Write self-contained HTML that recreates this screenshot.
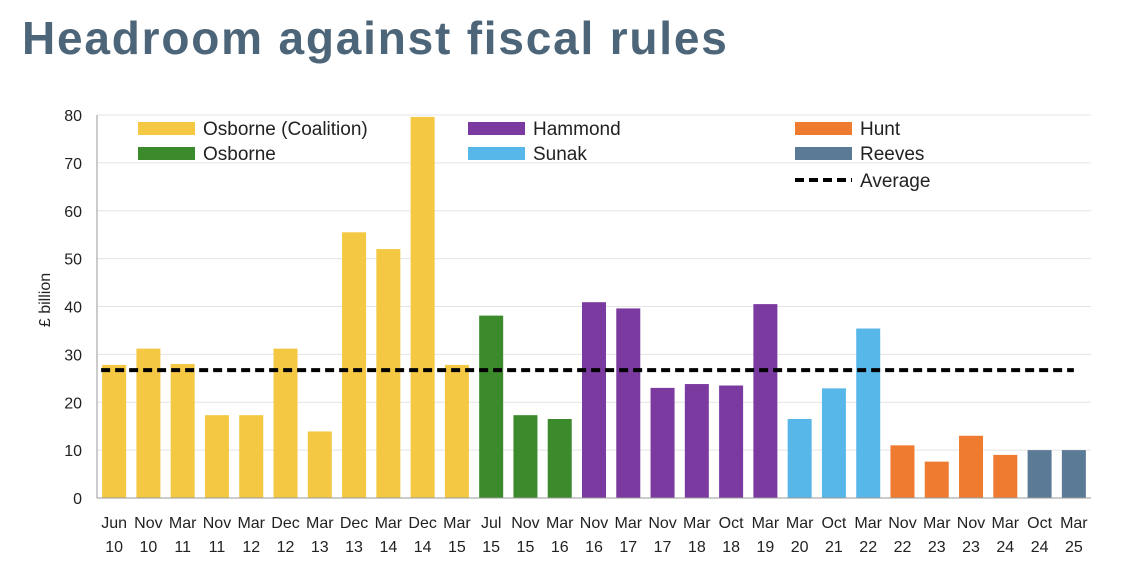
<!DOCTYPE html>
<html><head><meta charset="utf-8"><style>
body{margin:0;background:#fff;width:1146px;height:577px;overflow:hidden;font-family:"Liberation Sans",sans-serif}
</style></head><body>
<svg width="1146" height="577">
<text x="22" y="54" font-size="46" font-weight="bold" letter-spacing="1.8" fill="#4d6579">Headroom against fiscal rules</text>
<g id="grid"></g><g id="bars"></g><g id="axes"></g><g id="legend"></g>
<text transform="translate(50,300) rotate(-90)" text-anchor="middle" font-size="16" fill="#222">£ billion</text>
</svg>
<script>
const categories=[["Jun","10"],["Nov","10"],["Mar","11"],["Nov","11"],["Mar","12"],["Dec","12"],["Mar","13"],["Dec","13"],["Mar","14"],["Dec","14"],["Mar","15"],["Jul","15"],["Nov","15"],["Mar","16"],["Nov","16"],["Mar","17"],["Nov","17"],["Mar","18"],["Oct","18"],["Mar","19"],["Mar","20"],["Oct","21"],["Mar","22"],["Nov","22"],["Mar","23"],["Nov","23"],["Mar","24"],["Oct","24"],["Mar","25"]];
const values=[27.8,31.2,28,17.3,17.3,31.2,13.9,55.5,52,79.6,27.8,38.1,17.3,16.5,40.9,39.6,23,23.8,23.5,40.5,16.5,22.9,35.4,11,7.6,13,9,10,10];
const chancellors=[0,0,0,0,0,0,0,0,0,0,0,1,1,1,2,2,2,2,2,2,3,3,3,4,4,4,4,5,5];
const seriesNames=["Osborne (Coalition)","Osborne","Hammond","Sunak","Hunt","Reeves"];
const average=26.7;
const yTicks=[0,10,20,30,40,50,60,70,80];
const colors=["#f4c842","#3b8a2c","#7a3a9f","#58b7e9","#ee7b30","#5b7a95"];
const NS="http://www.w3.org/2000/svg";
const x0=97,x1=1091,step=(x1-x0)/categories.length,y0=498,yTop=115;
const y=v=>y0-(v/80)*(y0-yTop);
const xc=i=>x0+step*(i+0.5);
function mk(t,a,p){const e=document.createElementNS(NS,t);for(const k in a)e.setAttribute(k,a[k]);p.appendChild(e);return e;}
const grid=document.getElementById('grid'),bars=document.getElementById('bars'),axes=document.getElementById('axes'),leg=document.getElementById('legend');
yTicks.forEach(t=>{
 if(t>0){const g=mk('line',{x1:x0,x2:x1,y1:y(t),y2:y(t),stroke:'#e4e4e4','stroke-width':1},grid);
 
 }
 const l=mk('text',{x:82,y:y(t)+6,'text-anchor':'end','font-size':16,fill:'#222'},axes);l.textContent=t;
 
 
});
values.forEach((v,i)=>{
 const r=mk('rect',{x:xc(i)-12,y:y(v),width:24,height:y0-y(v),fill:colors[chancellors[i]]},bars);
 
 
 categories[i].forEach((s,j)=>{const t=mk('text',{x:xc(i),y:528+j*24,'text-anchor':'middle','font-size':16,fill:'#222'},axes);t.textContent=s;
 
 });
});
const ax=mk('line',{x1:x0,x2:x1,y1:y0,y2:y0,stroke:'#999'},axes);


const ay=mk('line',{x1:x0,x2:x0,y1:yTop,y2:y0,stroke:'#999'},axes);


const av=mk('line',{x1:xc(0)-13,x2:xc(values.length-1),y1:y(average),y2:y(average),stroke:'#000','stroke-width':4,'stroke-dasharray':'9,5'},bars);


const lx=[138,468,795],ly=[128,153],order=[[0,0,0],[2,1,0],[4,2,0],[1,0,1],[3,1,1],[5,2,1]];
order.forEach(([s,c,r])=>{
 const g=mk('g',{},leg);
 
 
 mk('rect',{x:lx[c],y:ly[r]-6,width:57,height:13,fill:colors[s]},g);
 const t=mk('text',{x:lx[c]+65,y:ly[r]+7,'font-size':19,fill:'#222'},g);t.textContent=seriesNames[s];
});
const ga=mk('g',{},leg);


mk('line',{x1:795,x2:852,y1:180,y2:180,stroke:'#000','stroke-width':4,'stroke-dasharray':'9,5'},ga);
const ta=mk('text',{x:860,y:187,'font-size':19,fill:'#222'},ga);ta.textContent='Average';
</script>
</body></html>
